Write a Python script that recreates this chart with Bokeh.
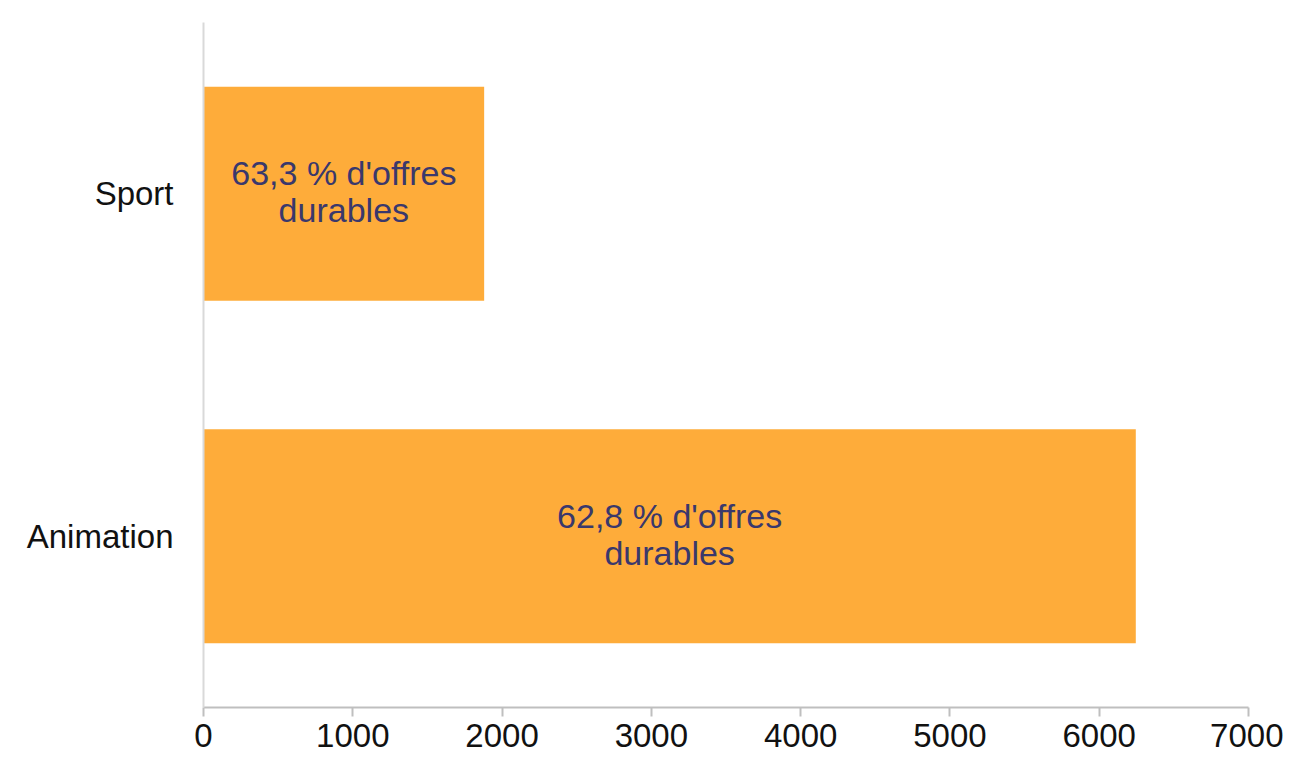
from bokeh.plotting import figure
from bokeh.models import ColumnDataSource, FactorRange, Range1d, FixedTicker
from bokeh.core.properties import value
from bokeh.embed import file_html
from bokeh.resources import INLINE

categories = ["Animation", "Sport"]
offers = [6245, 1880]
durable_pct = ["62,8", "63,3"]
x_ticks = [0, 1000, 2000, 3000, 4000, 5000, 6000, 7000]

labels = [f"{p} % d'offres\ndurables" for p in durable_pct]
mid = [v / 2 for v in offers]

src = ColumnDataSource(dict(cat=categories, val=offers, mid=mid, label=labels))

p = figure(width=1283, height=755, output_backend="svg", toolbar_location=None,
           y_range=FactorRange(factors=categories), x_range=Range1d(0, 7000),
           min_border_left=203, min_border_right=35, min_border_top=22, min_border_bottom=48)

p.hbar(y="cat", left=0, right="val", height=0.625, source=src,
       fill_color="#FEAC3A", line_color=None)
p.text(x="mid", y="cat", text="label", source=src, text_align="center",
       text_baseline="middle", text_font=value("Liberation Sans"),
       text_font_size="34px", text_color="#3A386C", text_line_height=0.97,
       y_offset=-2)

p.outline_line_color = None
p.xgrid.visible = False
p.ygrid.visible = False

xa = p.xaxis[0]
xa.ticker = FixedTicker(ticks=x_ticks)
xa.axis_line_color = "#BFBFBF"
xa.axis_line_width = 2
xa.major_tick_line_color = "#BFBFBF"
xa.major_tick_line_width = 2
xa.major_tick_out = 9
xa.major_tick_in = 0
xa.minor_tick_line_color = None
xa.major_label_text_font = "Liberation Sans"
xa.major_label_text_font_size = "33px"
xa.major_label_text_color = "#111111"
xa.major_label_standoff = 7

ya = p.yaxis[0]
ya.axis_line_color = "#D9D9D9"
ya.axis_line_width = 2
ya.major_tick_line_color = None
ya.minor_tick_line_color = None
ya.major_label_text_font = "Liberation Sans"
ya.major_label_text_font_size = "33px"
ya.major_label_text_color = "#111111"
ya.major_label_standoff = 24

open("out.html", "w").write(file_html(p, INLINE))
